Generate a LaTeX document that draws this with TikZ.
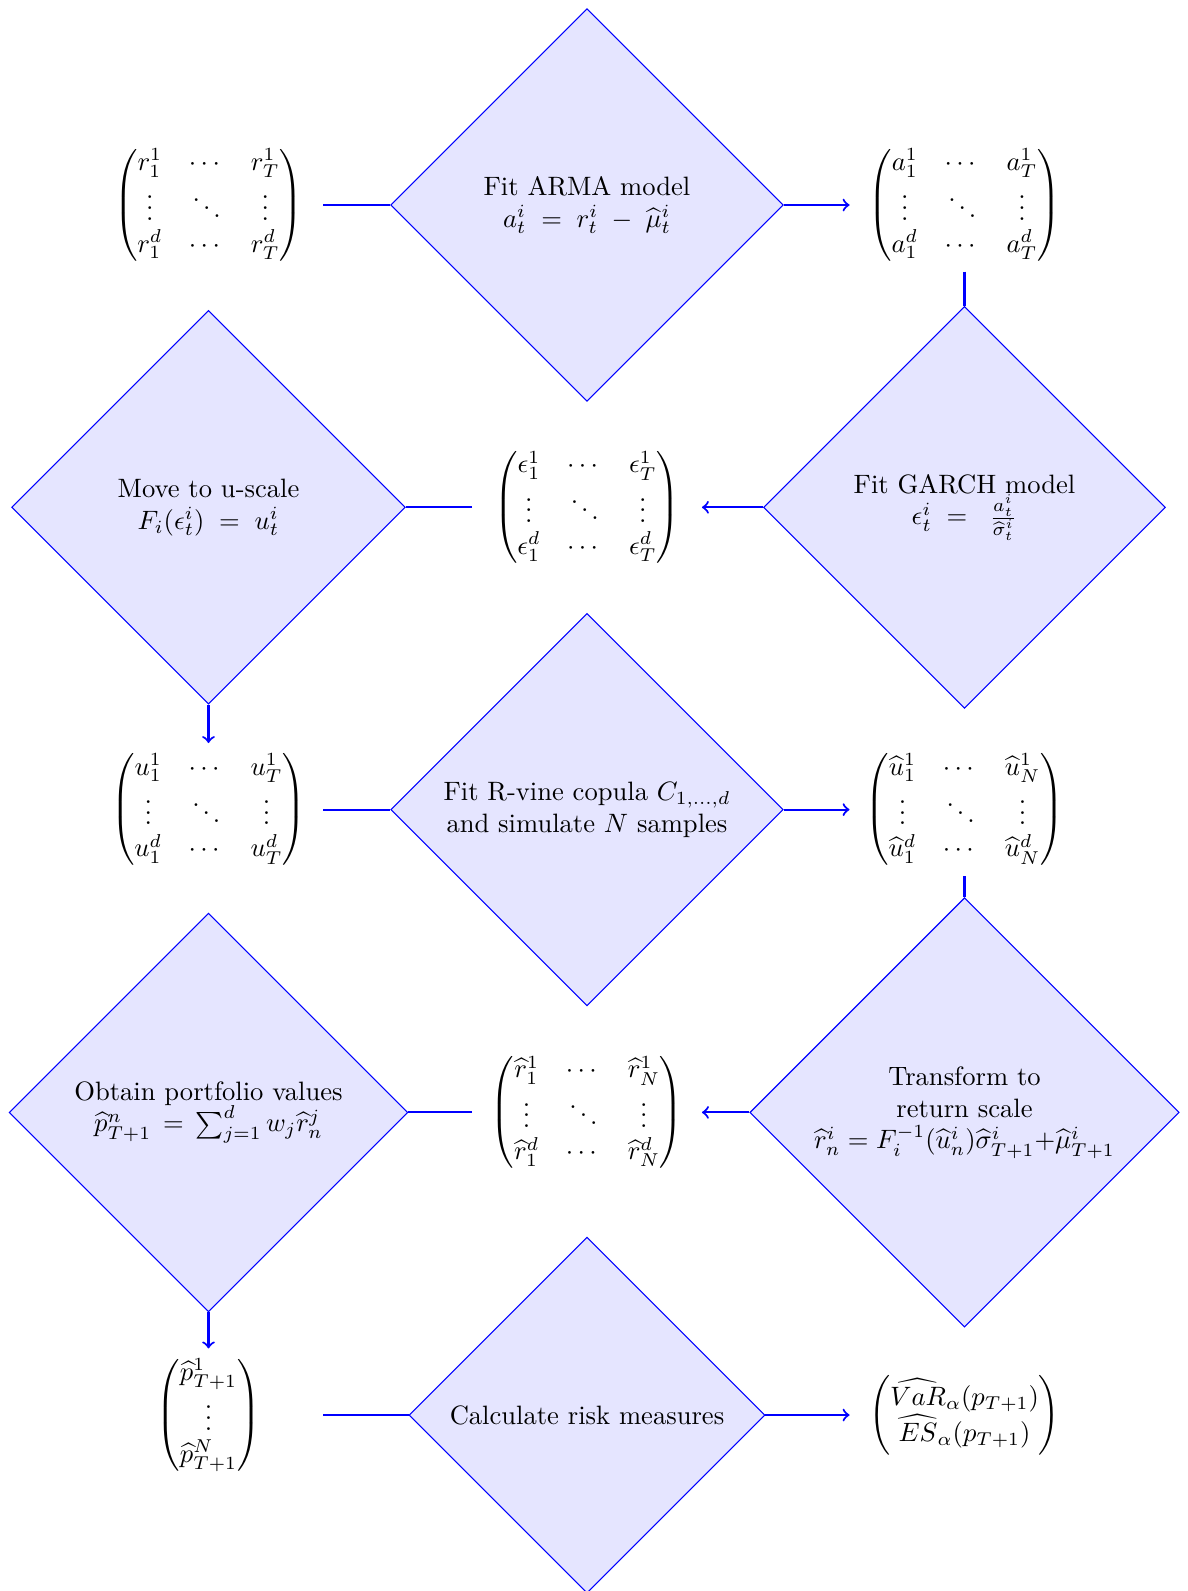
\documentclass[tikz,border=0pt]{standalone}
\usepackage{amsmath}
\usetikzlibrary{shapes.geometric}
\begin{document}
\begin{tikzpicture}[x=0.3762pt, y=-0.3762pt,
  proc/.style={diamond, aspect=1, draw=blue, fill=blue!10, thin, inner sep=0pt, align=center},
  mat/.style={minimum width=86.1pt, minimum height=49.7pt, inner sep=0pt},
  flow/.style={draw=blue, thick},
  flowarrow/.style={flow, ->}]
\useasboundingbox (0,0) rectangle (1187,1591);

% row 1
\node[mat] (rmat) at (208.5,205)
  {$\begin{pmatrix} r_1^1 & \cdots & r_T^1\\ \vdots & \ddots & \vdots\\ r_1^d & \cdots & r_T^d \end{pmatrix}$};
\node[proc, minimum width=147.7pt, minimum height=147.7pt] (arma) at (587,205)
  {Fit ARMA model\\ $a_t^i \;=\; r_t^i \;-\; \widehat{\mu}_t^i$};
\node[mat] (amat) at (964.5,205)
  {$\begin{pmatrix} a_1^1 & \cdots & a_T^1\\ \vdots & \ddots & \vdots\\ a_1^d & \cdots & a_T^d \end{pmatrix}$};

% row 2
\node[proc, minimum width=151.2pt, minimum height=151.2pt] (garch) at (964.5,507.3)
  {Fit GARCH model\\ $\epsilon_t^i \;=\;\; \frac{a_t^i}{\widehat{\sigma}_t^i}$};
\node[mat] (emat) at (587,507.3)
  {$\begin{pmatrix} \epsilon_1^1 & \cdots & \epsilon_T^1\\ \vdots & \ddots & \vdots\\ \epsilon_1^d & \cdots & \epsilon_T^d \end{pmatrix}$};
\node[proc, minimum width=148.1pt, minimum height=148.1pt] (move) at (208.5,507.3)
  {Move to u-scale\\ $F_i(\epsilon_t^i) \;=\; u_t^i$};

% row 3
\node[mat] (umat) at (208.5,809.6)
  {$\begin{pmatrix} u_1^1 & \cdots & u_T^1\\ \vdots & \ddots & \vdots\\ u_1^d & \cdots & u_T^d \end{pmatrix}$};
\node[proc, minimum width=147.7pt, minimum height=147.7pt] (rvine) at (587,809.6)
  {Fit R-vine copula $C_{1,\dots,d}$\\ and simulate $N$ samples};
\node[mat] (uhmat) at (964.5,809.6)
  {$\begin{pmatrix} \widehat{u}_1^1 & \cdots & \widehat{u}_N^1\\ \vdots & \ddots & \vdots\\ \widehat{u}_1^d & \cdots & \widehat{u}_N^d \end{pmatrix}$};

% row 4
\node[proc, minimum width=161.5pt, minimum height=161.5pt] (trans) at (964.5,1112.4)
  {Transform to\\ return scale\\ $\widehat{r}_n^i = F_i^{-1}(\widehat{u}_n^i)\widehat{\sigma}_{T+1}^i{+}\widehat{\mu}_{T+1}^i$};
\node[mat] (rhmat) at (587,1112.4)
  {$\begin{pmatrix} \widehat{r}_1^1 & \cdots & \widehat{r}_N^1\\ \vdots & \ddots & \vdots\\ \widehat{r}_1^d & \cdots & \widehat{r}_N^d \end{pmatrix}$};
\node[proc, minimum width=150pt, minimum height=150pt] (obtain) at (208.5,1112.4)
  {Obtain portfolio values\\ $\widehat{p}_{T+1}^n \,=\, \sum_{j=1}^d w_j \widehat{r}_n^j$};

% row 5
\node[mat] (pvec) at (208.5,1415)
  {$\begin{pmatrix} \widehat{p}_{T+1}^1\\ \vdots\\ \widehat{p}_{T+1}^N \end{pmatrix}$};
\node[proc, minimum width=133.9pt, minimum height=133.9pt] (risk) at (587,1415)
  {Calculate risk measures};
\node[mat] (rmvec) at (964.5,1415)
  {$\begin{pmatrix} \widehat{VaR}_\alpha(p_{T+1})\\ \widehat{ES}_\alpha(p_{T+1}) \end{pmatrix}$};

% connectors
\draw[flow] (rmat.east) -- (arma.west);
\draw[flowarrow] (arma.east) -- (amat.west);
\draw[flow] (amat.south) -- (garch.north);
\draw[flowarrow] (garch.west) -- (emat.east);
\draw[flow] (emat.west) -- (move.east);
\draw[flowarrow] (move.south) -- (umat.north);
\draw[flow] (umat.east) -- (rvine.west);
\draw[flowarrow] (rvine.east) -- (uhmat.west);
\draw[flow] (uhmat.south) -- (trans.north);
\draw[flowarrow] (trans.west) -- (rhmat.east);
\draw[flow] (rhmat.west) -- (obtain.east);
\draw[flowarrow] (obtain.south) -- (pvec.north);
\draw[flow] (pvec.east) -- (risk.west);
\draw[flowarrow] (risk.east) -- (rmvec.west);
\end{tikzpicture}
\end{document}
